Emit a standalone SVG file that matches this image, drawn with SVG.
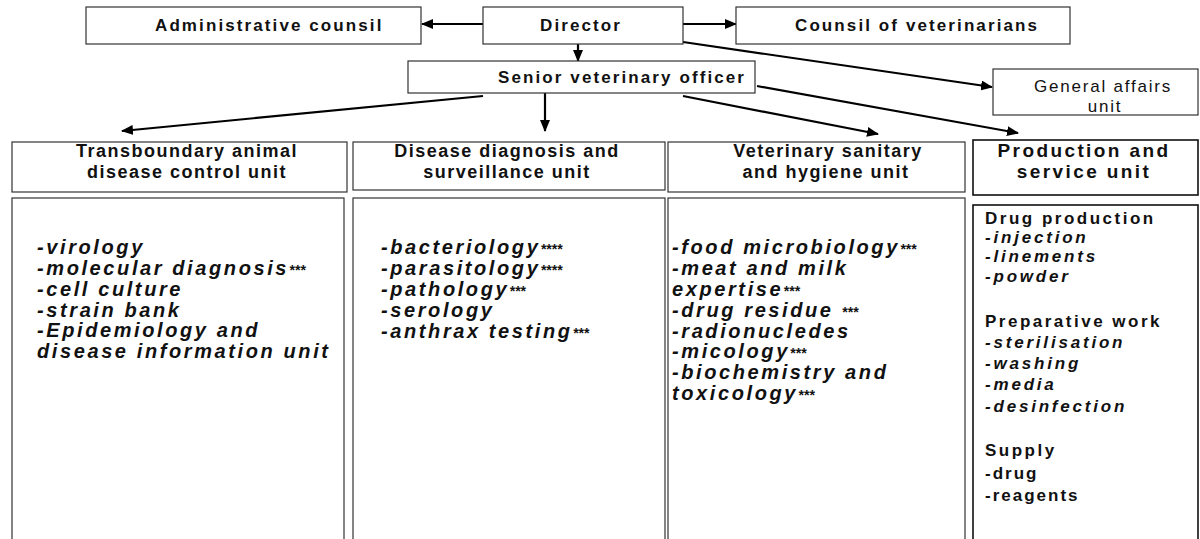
<svg xmlns="http://www.w3.org/2000/svg" width="1200" height="539" viewBox="0 0 1200 539">
<style>
.box{fill:#fff;stroke:#333;stroke-width:1.2}
.pbox{fill:#fff;stroke:#111;stroke-width:1.6}
.top{font-family:"Liberation Sans",Arial,sans-serif;font-weight:bold;font-size:17px;letter-spacing:2.1px;fill:#111}
.ga{font-family:"Liberation Sans",Arial,sans-serif;font-size:17px;letter-spacing:1.8px;fill:#111}
.hdr{font-family:"Liberation Sans",Arial,sans-serif;font-weight:bold;font-size:18px;letter-spacing:1.5px;fill:#111;text-anchor:middle}
.item{font-family:"Liberation Sans",Arial,sans-serif;font-weight:bold;font-style:italic;font-size:20px;letter-spacing:2.6px;fill:#111}
.ast{font-size:14px;letter-spacing:0}
.ph{font-family:"Liberation Sans",Arial,sans-serif;font-weight:bold;font-size:17px;letter-spacing:2.5px;fill:#111}
.pi{font-family:"Liberation Sans",Arial,sans-serif;font-weight:bold;font-style:italic;font-size:17px;letter-spacing:2.8px;fill:#111}
.pn{font-family:"Liberation Sans",Arial,sans-serif;font-weight:bold;font-size:17px;letter-spacing:2px;fill:#111}
.conn{stroke:#000;stroke-width:2.2;fill:none;marker-end:url(#arr)}
</style>
<defs>
<marker id="arr" markerUnits="userSpaceOnUse" markerWidth="12" markerHeight="10" refX="11" refY="5" orient="auto">
<path d="M0,0 L12,5 L0,10 Z" fill="#000"/>
</marker>
</defs>

<g id="connectors">
<line class="conn" x1="483" y1="24" x2="422" y2="24"/>
<line class="conn" x1="683" y1="24" x2="736" y2="24"/>
<line class="conn" x1="578" y1="44" x2="578" y2="61"/>
<line class="conn" x1="683" y1="42" x2="992" y2="87"/>
<line class="conn" x1="483" y1="96" x2="122" y2="131"/>
<line class="conn" x1="545" y1="93" x2="545" y2="131"/>
<line class="conn" x1="683" y1="96" x2="878" y2="134"/>
<line class="conn" x1="757" y1="86" x2="1018" y2="133"/>
</g>

<g id="admin">
<rect class="box" x="86" y="7" width="335" height="37"/>
<text class="top" x="155" y="31">Administrative counsil</text>
</g>
<g id="director">
<rect class="box" x="483" y="7" width="200" height="37"/>
<text class="top" x="540" y="31">Director</text>
</g>
<g id="counsil-vet">
<rect class="box" x="736" y="7" width="334" height="37"/>
<text class="top" x="795" y="31">Counsil of veterinarians</text>
</g>
<g id="senior">
<rect class="box" x="408" y="61" width="347" height="32"/>
<text class="top" x="498" y="83">Senior veterinary officer</text>
</g>
<g id="general-affairs">
<rect class="box" x="993" y="69" width="205" height="46"/>
<text class="ga" x="1103" y="92" text-anchor="middle">General affairs</text>
<text class="ga" x="1105" y="112" text-anchor="middle">unit</text>
</g>

<g id="transboundary">
<rect class="box" x="12" y="142" width="335" height="50"/>
<text class="hdr" x="187" y="157">Transboundary animal</text>
<text class="hdr" x="187" y="178">disease control unit</text>
<rect class="box" x="12" y="198" width="332" height="350"/>
<text class="item" x="37" y="254">-virology</text>
<text class="item" x="37" y="275">-molecular diagnosis<tspan class="ast">***</tspan></text>
<text class="item" x="37" y="296">-cell culture</text>
<text class="item" x="37" y="317">-strain bank</text>
<text class="item" x="37" y="337">-Epidemiology and</text>
<text class="item" x="37" y="358">disease information unit</text>
</g>

<g id="diagnosis">
<rect class="box" x="353" y="142" width="312" height="48"/>
<text class="hdr" x="507" y="157">Disease diagnosis and</text>
<text class="hdr" x="507" y="178">surveillance unit</text>
<rect class="box" x="353" y="198" width="312" height="350"/>
<text class="item" x="381" y="254">-bacteriology<tspan class="ast">****</tspan></text>
<text class="item" x="381" y="275">-parasitology<tspan class="ast">****</tspan></text>
<text class="item" x="381" y="296">-pathology<tspan class="ast">***</tspan></text>
<text class="item" x="381" y="317">-serology</text>
<text class="item" x="381" y="338">-anthrax testing<tspan class="ast">***</tspan></text>
</g>

<g id="sanitary">
<rect class="box" x="668" y="142" width="297" height="50"/>
<text class="hdr" x="828" y="157">Veterinary sanitary</text>
<text class="hdr" x="826" y="178">and hygiene unit</text>
<rect class="box" x="668" y="198" width="297" height="350"/>
<text class="item" x="672" y="254">-food microbiology<tspan class="ast">***</tspan></text>
<text class="item" x="672" y="275">-meat and milk</text>
<text class="item" x="672" y="296">expertise<tspan class="ast">***</tspan></text>
<text class="item" x="672" y="317">-drug residue <tspan class="ast">***</tspan></text>
<text class="item" x="672" y="338">-radionucledes</text>
<text class="item" x="672" y="358">-micology<tspan class="ast">***</tspan></text>
<text class="item" x="672" y="379">-biochemistry and</text>
<text class="item" x="672" y="400">toxicology<tspan class="ast">***</tspan></text>
</g>

<g id="production">
<rect class="pbox" x="973" y="140" width="225" height="55"/>
<text class="hdr" x="1084" y="157" style="font-size:19px;letter-spacing:2.4px">Production and</text>
<text class="hdr" x="1084" y="178" style="font-size:19px;letter-spacing:2.4px">service unit</text>
<rect class="pbox" x="973" y="205" width="225" height="345"/>
<text class="ph" x="985" y="224">Drug production</text>
<text class="pi" x="985" y="243">-injection</text>
<text class="pi" x="985" y="262">-linements</text>
<text class="pi" x="985" y="282">-powder</text>
<text class="ph" x="985" y="327">Preparative work</text>
<text class="pi" x="985" y="348">-sterilisation</text>
<text class="pi" x="985" y="369">-washing</text>
<text class="pi" x="985" y="390">-media</text>
<text class="pi" x="985" y="412">-desinfection</text>
<text class="ph" x="985" y="456">Supply</text>
<text class="pn" x="985" y="479">-drug</text>
<text class="pn" x="985" y="501">-reagents</text>
</g>
</svg>
